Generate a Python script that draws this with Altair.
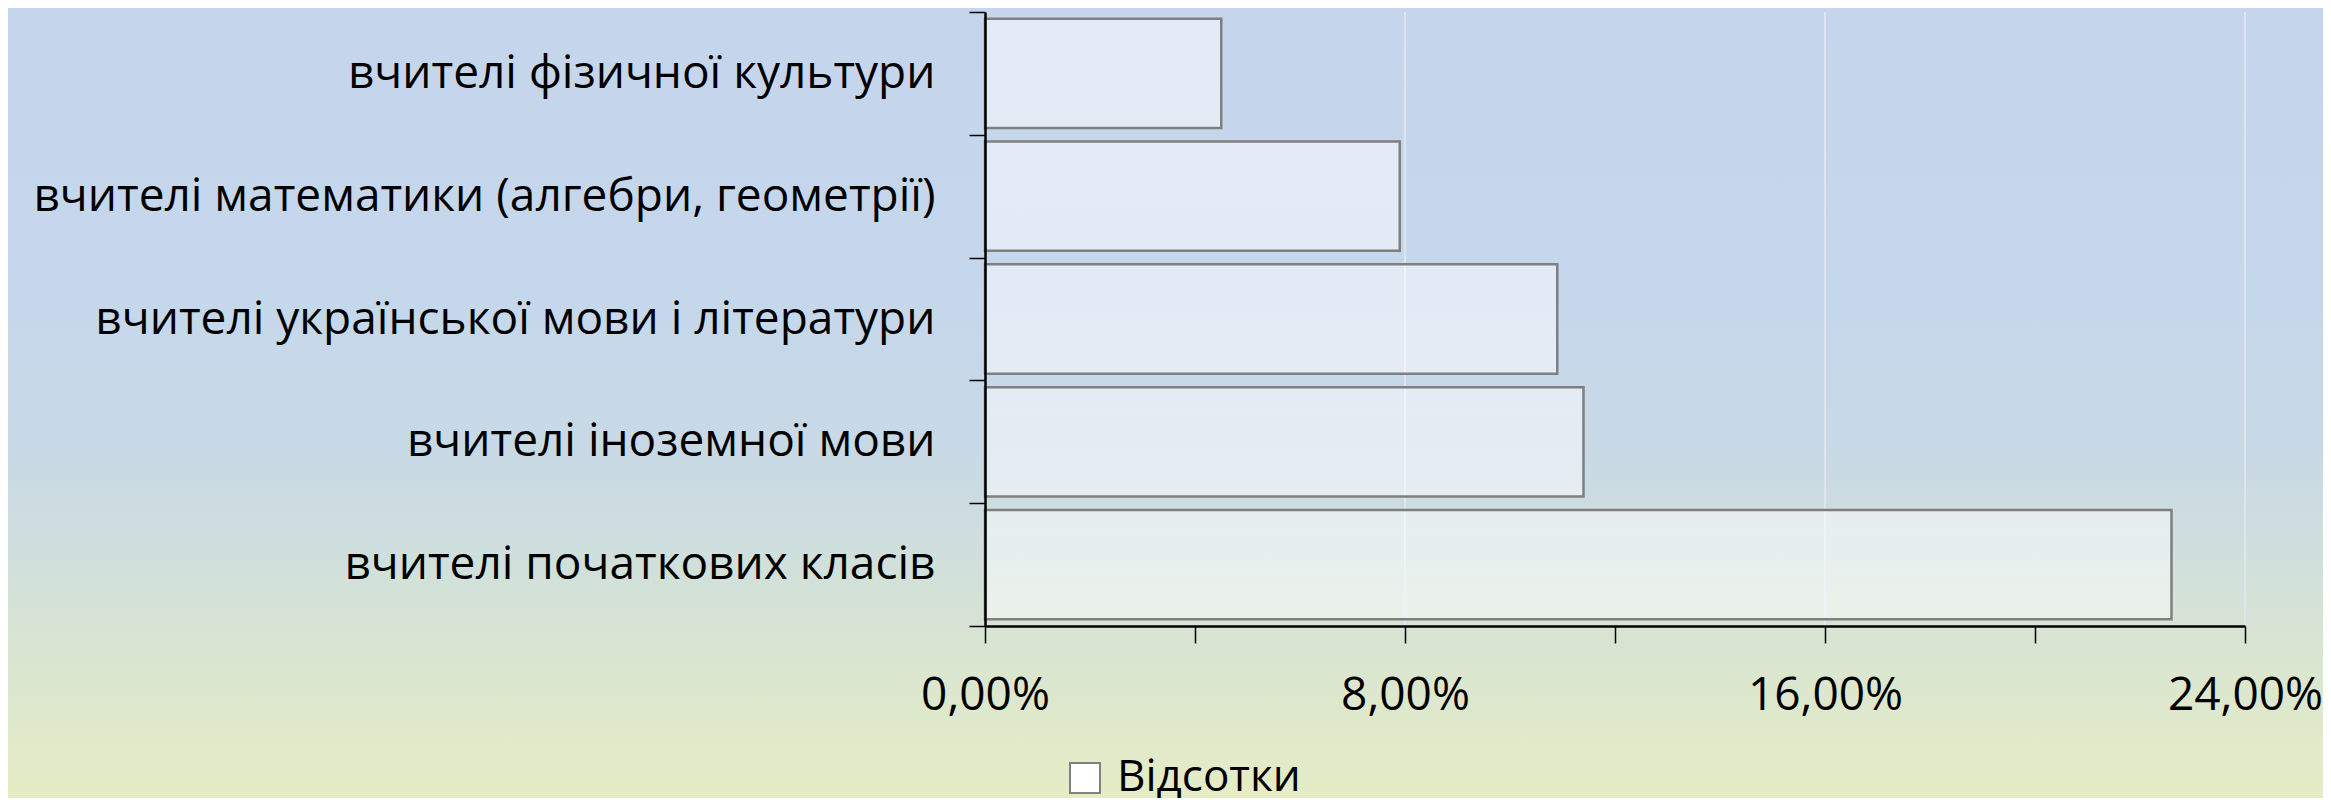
import altair as alt
import pandas as pd

categories = [
    "вчителі фізичної культури",
    "вчителі математики (алгебри, геометрії)",
    "вчителі української мови і літератури",
    "вчителі іноземної мови",
    "вчителі початкових класів",
]
values = [4.5, 7.9, 10.9, 11.4, 22.6]
series_name = "Відсотки"
x_ticks = [0, 4, 8, 12, 16, 20, 24]
grid_values = [8, 16, 24]

df = pd.DataFrame({"cat": categories, "val": values, "series": [series_name] * len(categories)})
grid_df = pd.DataFrame({"g": grid_values})

W, H = 1260, 614
PL, PT, PR, PB = 977, 4, 78, 172
FONT = "Open Sans"

bg = alt.Chart(alt.Data(values=[{}])).mark_rect(
    fill=alt.LinearGradient(
        gradient="linear",
        stops=[
            alt.GradientStop(color="#c5d6ec", offset=0),
            alt.GradientStop(color="#c5d7eb", offset=0.37),
            alt.GradientStop(color="#c8d9e6", offset=0.56),
            alt.GradientStop(color="#cfdfdc", offset=0.69),
            alt.GradientStop(color="#d9e5d1", offset=0.81),
            alt.GradientStop(color="#e5ecc5", offset=1),
        ],
        x1=0, x2=0, y1=0, y2=1,
    ),
    strokeWidth=0,
).encode(
    x=alt.value(-PL), x2=alt.value(W + PR), y=alt.value(-PT), y2=alt.value(H + PB)
)

xscale = alt.Scale(domain=[0, 24], nice=False, zero=True)

grid = alt.Chart(grid_df).mark_rule(color="#dfe5ec", strokeWidth=2).encode(
    x=alt.X("g:Q", scale=xscale)
)

bars = alt.Chart(df).mark_bar(
    fillOpacity=0.5, stroke="#7f7f7f", strokeWidth=2.5,
    height=alt.RelativeBandSize(band=0.89),
).encode(
    x=alt.X(
        "val:Q",
        scale=xscale,
        axis=alt.Axis(
            title=None,
            values=x_ticks,
            labelExpr="datum.value % 8 == 0 ? replace(format(datum.value, '.2f'), '.', ',') + '%' : ''",
            tickSize=17,
            tickColor="#000000",
            tickWidth=1.5,
            domainColor="#000000",
            domainWidth=2.5,
            grid=False,
            labelFont=FONT,
            labelFontSize=46,
            labelColor="#000000",
            labelPadding=30,
            labelFlush=False,
            labelOverlap=False,
            zindex=2,
        ),
    ),
    y=alt.Y(
        "cat:N",
        sort=categories,
        scale=alt.Scale(paddingInner=0, paddingOuter=0),
        axis=alt.Axis(
            title=None,
            tickBand="extent",
            tickSize=16,
            tickColor="#000000",
            tickWidth=1.5,
            domainColor="#000000",
            domainWidth=2.5,
            labelFont=FONT,
            labelFontSize=46,
            labelColor="#000000",
            labelPadding=34,
            labelLimit=2000,
            zindex=2,
        ),
    ),
    color=alt.Color(
        "series:N",
        scale=alt.Scale(range=["#ffffff"]),
        legend=alt.Legend(
            title=None,
            orient="none",
            legendX=78,
            legendY=744,
            symbolType="square",
            symbolSize=900,
            symbolStrokeColor="#808080",
            symbolStrokeWidth=2,
            labelFont=FONT,
            labelFontSize=44,
            labelColor="#000000",
            labelOffset=10,
            labelLimit=1000,
            padding=0,
            zindex=2,
        ),
    ),
)

chart = alt.layer(bg, grid, bars).properties(
    width=W,
    height=H,
    padding={"left": PL, "top": PT, "right": PR, "bottom": PB},
    autosize=alt.AutoSizeParams(type="none"),
).configure_view(stroke=None).configure(background="#c5d6ec")

chart.save("out.html", embed_options={"renderer": "svg", "actions": False})
